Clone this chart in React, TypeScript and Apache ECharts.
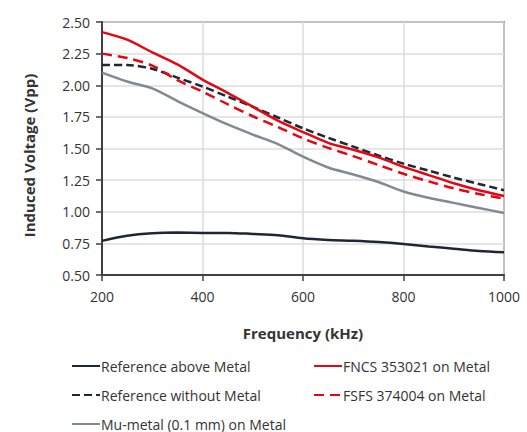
import React, { useEffect, useRef } from "react";
import * as echarts from "echarts";

const freqs = [200, 250, 300, 350, 400, 450, 500, 550, 600, 650, 700, 750, 800, 850, 900, 950, 1000];
const refAbove = [0.77, 0.81, 0.83, 0.835, 0.833, 0.833, 0.825, 0.815, 0.79, 0.777, 0.77, 0.76, 0.745, 0.726, 0.708, 0.69, 0.68];
const refWithout = [2.16, 2.16, 2.13, 2.06, 1.99, 1.91, 1.83, 1.745, 1.66, 1.585, 1.515, 1.445, 1.38, 1.325, 1.27, 1.22, 1.17];
const muMetal = [2.1, 2.03, 1.975, 1.875, 1.78, 1.69, 1.61, 1.535, 1.435, 1.35, 1.295, 1.235, 1.16, 1.11, 1.07, 1.03, 0.99];
const fncs = [2.42, 2.36, 2.26, 2.165, 2.045, 1.94, 1.83, 1.72, 1.63, 1.545, 1.49, 1.43, 1.355, 1.29, 1.225, 1.17, 1.125];
const fsfs = [2.25, 2.215, 2.155, 2.04, 1.95, 1.85, 1.755, 1.67, 1.58, 1.505, 1.44, 1.37, 1.3, 1.24, 1.185, 1.14, 1.105];

const names = {
  refAbove: "Reference above Metal",
  refWithout: "Reference without Metal",
  mu: "Mu-metal (0.1 mm) on Metal",
  fncs: "FNCS 353021 on Metal",
  fsfs: "FSFS 374004 on Metal",
};

const FONT = "'Open Sans', 'Noto Sans', sans-serif";
const TXT = "#333333";

export default function App() {
  const ref = useRef<HTMLDivElement>(null);
  useEffect(() => {
    if (!ref.current) return;
    const chart = echarts.init(ref.current, undefined, { renderer: "svg" });
    const pairs = (vals: number[]) => freqs.map((f, i) => [f, vals[i]]);
    const mk = (name: string, vals: number[], color: string, width: number, type: any) => ({
      name,
      type: "line",
      data: pairs(vals),
      smooth: 0.3,
      symbol: "none",
      lineStyle: { color, width, type },
      itemStyle: { color },
    });
    const legendCommon = {
      orient: "vertical",
      itemWidth: 28,
      itemHeight: 14,
      itemGap: 15,
      padding: 0,
      height: 73,
      itemStyle: { opacity: 0 },
      textStyle: { fontFamily: FONT, fontSize: 14, lineHeight: 14, color: TXT, padding: [0, 0, 0, -4] },
    };
    chart.setOption({
      animation: false,
      grid: {
        left: 102,
        right: 23,
        top: 22,
        bottom: 157,
        show: true,
        borderColor: "#404040",
        borderWidth: 1.5,
      },
      legend: [
        { ...legendCommon, left: 71, top: 359, data: [names.refAbove, names.refWithout, names.mu] },
        { ...legendCommon, left: 313, top: 359, data: [names.fncs, names.fsfs] },
      ],
      xAxis: {
        type: "value",
        min: 200,
        max: 1000,
        interval: 200,
        name: "Frequency (kHz)",
        nameLocation: "middle",
        nameGap: 50,
        nameTextStyle: { fontFamily: FONT, fontSize: 15, fontWeight: "bold", color: TXT },
        axisLine: { show: true, lineStyle: { color: "#404040", width: 2 } },
        axisTick: { show: true, length: 6, lineStyle: { color: "#404040", width: 1.5 } },
        axisLabel: { fontFamily: FONT, fontSize: 14, color: TXT, margin: 14, formatter: (v: number) => String(v) },
        splitLine: { show: true, lineStyle: { color: "#dcdcdc", width: 1.5 } },
      },
      yAxis: {
        type: "value",
        min: 0.5,
        max: 2.5,
        interval: 0.25,
        name: "Induced Voltage (Vpp)",
        nameLocation: "middle",
        nameGap: 66,
        nameTextStyle: { fontFamily: FONT, fontSize: 15, fontWeight: "bold", color: TXT, padding: [0, 14, 0, 0] },
        axisLine: { show: true, lineStyle: { color: "#404040", width: 2 } },
        axisTick: { show: true, length: 6, lineStyle: { color: "#404040", width: 1.5 } },
        axisLabel: {
          fontFamily: FONT,
          fontSize: 14,
          color: TXT,
          margin: 12,
          formatter: (v: number) => v.toFixed(2),
        },
        splitLine: { show: true, lineStyle: { color: "#dcdcdc", width: 1.5 } },
      },
      series: [
        mk(names.refAbove, refAbove, "#1e2832", 2.5, "solid"),
        mk(names.mu, muMetal, "#7f8a92", 2.5, "solid"),
        mk(names.refWithout, refWithout, "#1e2832", 2.5, [8, 4]),
        mk(names.fsfs, fsfs, "#e30613", 2.5, [10, 6]),
        mk(names.fncs, fncs, "#e30613", 2.5, "solid"),
      ],
    });
    return () => chart.dispose();
  }, []);
  return (
    <div
      ref={ref}
      style={{ position: "fixed", left: 0, top: 0, width: 527, height: 432, background: "#ffffff" }}
    />
  );
}
